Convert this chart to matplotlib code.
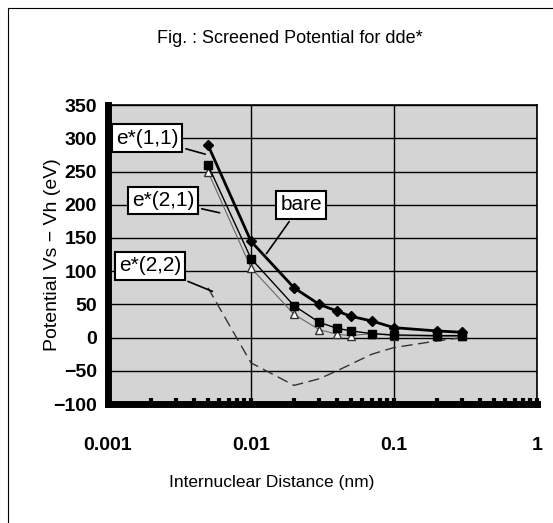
import numpy as np
import matplotlib
matplotlib.use("Agg")
import matplotlib.pyplot as plt
from matplotlib.ticker import FixedLocator, LogLocator, NullFormatter

plt.rcParams['font.family'] = ['Liberation Sans Narrow', 'Liberation Sans', 'DejaVu Sans']

# datos
dist = [0.005, 0.01, 0.02, 0.03, 0.04, 0.05, 0.07, 0.1, 0.2, 0.3]
bare = [290, 145, 75, 50, 40, 32, 25, 15, 10, 8]
e11 = [260, 119, 48, 23, 14, 10, 6, 4, 3, 3]
e21 = [250, 105, 35, 12, 5, 3, 6, 3, 2, 2]
e22 = [75, -38, -72, -62, -50, -40, -25, -15, -5, 0]

yticks = [-100, -50, 0, 50, 100, 150, 200, 250, 300, 350]
xticks = [0.001, 0.01, 0.1, 1]
xticklabels = ['0.001', '0.01', '0.1', '1']

fig = plt.figure(figsize=(5.53, 5.23), dpi=100)
ax = fig.add_axes([0.1953, 0.2275, 0.7757, 0.5715])
ax.set_facecolor('#d4d4d4')

ax.plot(dist, e22, color='#333333', lw=1.0, ls=(0, (8, 4)), zorder=3)
ax.plot(dist, e21, color='#666666', lw=0.8, marker='^', ms=6, mfc='white', mec='#333333', zorder=4)
ax.plot(dist, e11, color='black', lw=1.0, marker='s', ms=6, zorder=5)
ax.plot(dist, bare, color='black', lw=2.0, marker='D', ms=5.5, zorder=6)

ax.set_xscale('log')
ax.set_xlim(0.001, 1)
ax.set_ylim(-100, 350)
ax.xaxis.set_major_locator(FixedLocator(xticks))
ax.set_xticklabels(xticklabels, fontweight='bold')
ax.xaxis.set_minor_locator(LogLocator(base=10, subs=np.arange(2, 10)))
ax.xaxis.set_minor_formatter(NullFormatter())
ax.set_yticks(yticks)
ax.set_yticklabels([str(v).replace('-', '\u2212') for v in yticks], fontweight='bold')

ax.grid(True, which='major', color='black', lw=1.0)
ax.set_axisbelow(True)
ax.tick_params(axis='both', which='major', length=0, labelsize=14, pad=8)
ax.tick_params(axis='x', which='minor', direction='in', length=4, width=3)
ax.tick_params(axis='x', which='major', direction='in', length=4, width=3, pad=24)

ax.spines['left'].set_linewidth(5)
ax.spines['bottom'].set_linewidth(5)
ax.spines['top'].set_linewidth(1.2)
ax.spines['right'].set_linewidth(1.2)

ax.set_xlabel('Internuclear Distance (nm)', fontsize=12.5)
ax.xaxis.set_label_coords(0.382, -0.264)
ax.xaxis.label.set_va('center')
ax.set_ylabel('Potential Vs \u2212 Vh (eV)', fontsize=14)
ax.yaxis.set_label_coords(-0.13, 0.5)
ax.yaxis.label.set_va('center')
fig.text(0.525, 0.927, 'Fig. : Screened Potential for dde*', ha='center', va='center', fontsize=13)

caja = dict(boxstyle='square,pad=0.2', fc='white', ec='black', lw=1.5)
flecha = dict(arrowstyle='-', color='black', lw=1.2)
ax.annotate('e*(1,1)', xy=(0.005, 275), xytext=(0.091, 0.890), textcoords='axes fraction',
            ha='center', va='center', fontsize=15, bbox=caja, arrowprops=flecha, zorder=10)
ax.annotate('e*(2,1)', xy=(0.0063, 187), xytext=(0.128, 0.682), textcoords='axes fraction',
            ha='center', va='center', fontsize=15, bbox=caja, arrowprops=flecha, zorder=10)
ax.annotate('e*(2,2)', xy=(0.0056, 68), xytext=(0.098, 0.462), textcoords='axes fraction',
            ha='center', va='center', fontsize=15, bbox=caja, arrowprops=flecha, zorder=10)
ax.annotate('bare', xy=(0.0125, 123), xytext=(0.450, 0.666), textcoords='axes fraction',
            ha='center', va='center', fontsize=15, bbox=caja, arrowprops=flecha, zorder=10)

# marco de la figura
fig.patches.append(plt.Rectangle((0.015, -0.01), 1.0, 0.995, transform=fig.transFigure,
                                 fill=False, ec='black', lw=0.8))

fig.savefig('out.png', dpi=100)
